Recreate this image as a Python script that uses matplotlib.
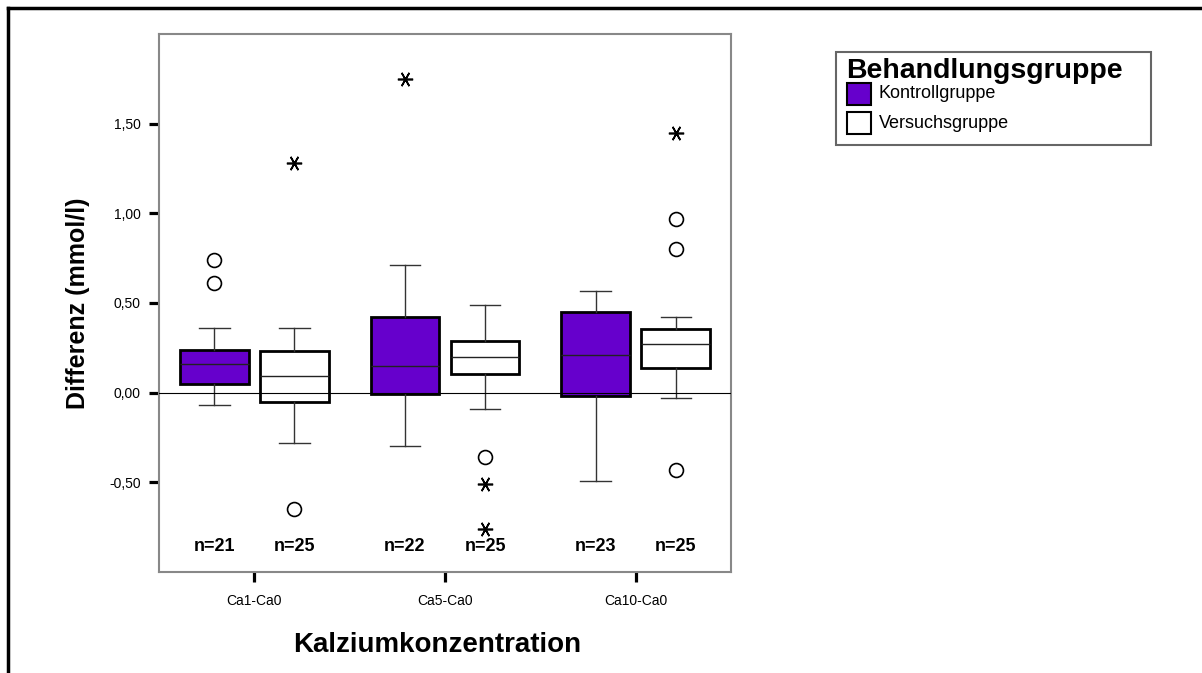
import matplotlib
matplotlib.use("Agg")
import matplotlib.pyplot as plt
from matplotlib.patches import Rectangle
from matplotlib.lines import Line2D

plt.rcParams['font.family'] = ['Liberation Sans', 'DejaVu Sans']

# Kalziumkonzentrationen und Gruppen
categories = ['Ca1-Ca0', 'Ca5-Ca0', 'Ca10-Ca0']
groups = ['Kontrollgruppe', 'Versuchsgruppe']
group_colors = ['#6600CC', 'white']

# Kennwerte je Box: whislo, q1, med, q3, whishi
kontroll_stats = [
    [-0.07, 0.05, 0.16, 0.24, 0.36],
    [-0.30, -0.01, 0.15, 0.42, 0.71],
    [-0.49, -0.02, 0.21, 0.45, 0.565],
]
versuch_stats = [
    [-0.28, -0.05, 0.095, 0.23, 0.36],
    [-0.09, 0.105, 0.20, 0.29, 0.49],
    [-0.03, 0.14, 0.27, 0.355, 0.42],
]
n_kontroll = [21, 22, 23]
n_versuch = [25, 25, 25]

# Ausreisser (Kreis) und Extremwerte (Stern)
kontroll_circles = [[0.74, 0.61], [], []]
kontroll_stars = [[], [1.75], []]
versuch_circles = [[-0.65], [-0.36], [0.97, 0.80, -0.43]]
versuch_stars = [[1.28], [-0.51, -0.76], [1.45]]

y_ticks = [-0.5, 0.0, 0.5, 1.0, 1.5]

fig = plt.figure(figsize=(12.02, 6.73), dpi=100)
ax = fig.add_axes([0.1323, 0.1501, 0.4759, 0.7994])

offset = 0.21
width = 0.36
x = [1, 2, 3]


def make_stats(rows):
    out = []
    for lo, q1, med, q3, hi in rows:
        out.append(dict(whislo=lo, q1=q1, med=med, q3=q3, whishi=hi, fliers=[]))
    return out


for stats, pos_shift, color in [(kontroll_stats, -offset, group_colors[0]),
                                (versuch_stats, offset, group_colors[1])]:
    pos = [p + pos_shift for p in x]
    ax.bxp(make_stats(stats), positions=pos, widths=width,
           patch_artist=True, showfliers=False, capwidths=0.16,
           boxprops=dict(facecolor=color, edgecolor='black', linewidth=2),
           whiskerprops=dict(color='#333333', linewidth=1),
           capprops=dict(color='#333333', linewidth=1),
           medianprops=dict(color='#222222', linewidth=1))

# Stern mit waagrechtem Strich
star = (6, 2, 90)
for i in range(3):
    for vals, shift in [(kontroll_circles[i], -offset), (versuch_circles[i], offset)]:
        if vals:
            ax.plot([x[i] + shift] * len(vals), vals, linestyle='none', marker='o',
                    markersize=10, markerfacecolor='white', markeredgecolor='black',
                    markeredgewidth=1.2, zorder=4)
    for vals, shift in [(kontroll_stars[i], -offset), (versuch_stars[i], offset)]:
        if vals:
            ax.plot([x[i] + shift] * len(vals), vals, linestyle='none', marker=star,
                    markersize=11, color='black', markeredgewidth=1.2, zorder=4)
    ax.text(x[i] - offset, -0.86, 'n=%d' % n_kontroll[i], ha='center', va='center',
            fontsize=13, fontweight='bold')
    ax.text(x[i] + offset, -0.86, 'n=%d' % n_versuch[i], ha='center', va='center',
            fontsize=13, fontweight='bold')

ax.axhline(0, color='black', linewidth=0.8, zorder=3)

ax.set_xlim(0.5, 3.5)
ax.set_ylim(-1.0, 2.0)
ax.set_xticks(x)
ax.set_xticklabels(categories, fontsize=10)
ax.set_yticks(y_ticks)
ax.set_yticklabels([('%.2f' % v).replace('.', ',') for v in y_ticks], fontsize=10)
ax.tick_params(axis='both', length=7, width=2.3, color='black')
ax.tick_params(axis='y', pad=6)
ax.tick_params(axis='x', pad=9)
for s in ax.spines.values():
    s.set_color('#888888')
    s.set_linewidth(1.5)

fig.text(78 / 1202, 1 - 303 / 673, 'Differenz (mmol/l)', rotation=90,
         ha='center', va='center', fontsize=18, fontweight='bold')
fig.text(437 / 1202, 1 - 645 / 673, 'Kalziumkonzentration',
         ha='center', va='center', fontsize=20, fontweight='bold')

# Legende
W, H = 1202, 673
fig.patches.append(Rectangle((836 / W, 1 - 145 / H), 315 / W, 93 / H,
                             transform=fig.transFigure, facecolor='white',
                             edgecolor='#666666', linewidth=1.5))
fig.text(846 / W, 1 - 70.5 / H, 'Behandlungsgruppe', ha='left', va='center',
         fontsize=20.5, fontweight='bold')
for k, (lab, col) in enumerate(zip(groups, group_colors)):
    yc = 94 + k * 29
    fig.patches.append(Rectangle((847 / W, 1 - (yc + 11) / H), 24 / W, 22 / H,
                                 transform=fig.transFigure, facecolor=col,
                                 edgecolor='black', linewidth=1.5))
    fig.text(879 / W, 1 - yc / H, lab, ha='left', va='center', fontsize=13)

# Rahmen
fig.lines.append(Line2D([8 / W, 1.0], [1 - 8 / H, 1 - 8 / H],
                        transform=fig.transFigure, color='black', linewidth=2.5))
fig.lines.append(Line2D([8 / W, 8 / W], [0.0, 1 - 8 / H],
                        transform=fig.transFigure, color='black', linewidth=2.5))

fig.savefig('out.png', dpi=100)
